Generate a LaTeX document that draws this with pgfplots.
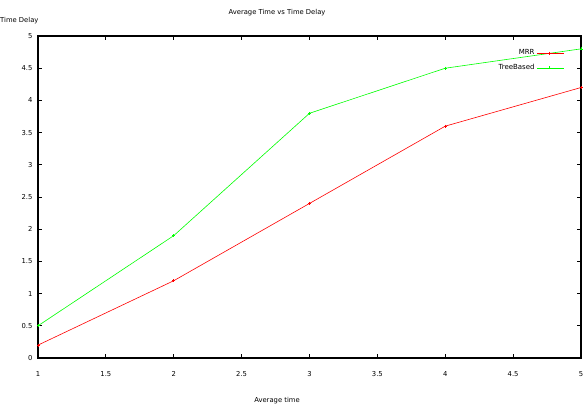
\documentclass[border=0pt]{standalone}
\usepackage{pgfplots}
\pgfplotsset{compat=1.18}
\usepackage{fontspec}
\setmainfont{DejaVu Sans}
\begin{document}
\begin{tikzpicture}[x=1pt,y=1pt]
\path[use as bounding box] (0,0) rectangle (583,409);
\begin{axis}[
  at={(38pt,51pt)}, anchor=south west,
  scale only axis,
  width=543pt, height=322pt,
  xmin=1, xmax=5, ymin=0, ymax=5,
  xtick={1,1.5,...,5}, ytick={0,0.5,...,5},
  tick align=inside,
  major tick length=4pt,
  axis line style={line width=1.2pt},
  every tick/.style={black, line width=0.8pt},
  tick label style={font=\fontsize{6.8}{7}\selectfont},
  /pgf/number format/assume math mode=true,
  xticklabel style={yshift=-10pt},
  yticklabel style={xshift=-2pt},
  legend style={draw=none, fill=none, at={(0.975,0.97)}, anchor=north east,
    font=\fontsize{7}{8}\selectfont, row sep=4pt},
  legend cell align=right,
  legend plot pos=right,
  legend image code/.code={
    \draw[mark repeat=2,mark phase=2,#1] plot coordinates {(0.15cm,0cm)(0.6cm,0cm)(1.1cm,0cm)};},
  clip=false,
]
\addplot[color=red, line width=0.6pt, mark=+, mark size=1.5pt]
  coordinates {(1,0.2)(2,1.2)(3,2.4)(4,3.6)(5,4.2)};
\addlegendentry{MRR}
\addplot[color=green, line width=0.6pt, mark=+, mark size=1.5pt]
  coordinates {(1,0.5)(2,1.9)(3,3.8)(4,4.5)(5,4.8)};
\addlegendentry{TreeBased}
\end{axis}
\node[font=\fontsize{6.8}{7}\selectfont] at (277,396) {Average Time vs Time Delay};
\node[font=\fontsize{6.8}{7}\selectfont, anchor=east] at (42,388) {Time Delay};
\node[font=\fontsize{6.8}{7}\selectfont] at (277,8) {Average time};
\end{tikzpicture}
\end{document}
